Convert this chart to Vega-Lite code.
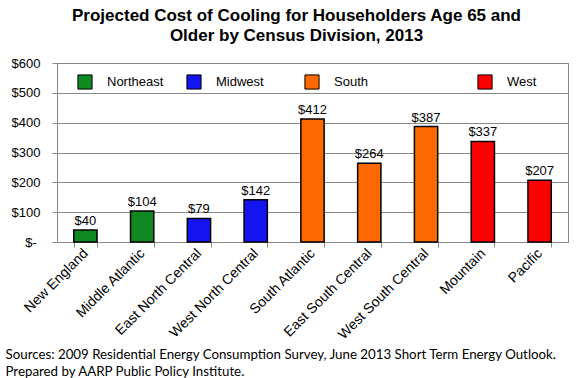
{
  "$schema": "https://vega.github.io/schema/vega-lite/v6.json",
  "width": 511,
  "height": 179,
  "autosize": {"type": "none"},
  "padding": {"left": 57, "top": 63, "right": 11, "bottom": 136},
  "background": "white",
  "title": {
    "text": ["Projected Cost of Cooling for Householders Age 65 and", "Older by Census Division, 2013"],
    "font": "Liberation Sans",
    "fontSize": 17,
    "fontWeight": "bold",
    "color": "black",
    "lineHeight": 20,
    "anchor": "middle",
    "frame": "group",
    "dx": -16,
    "offset": 12
  },
  "data": {
    "values": [
      {"division": "New England", "cost": 40, "region": "Northeast"},
      {"division": "Middle Atlantic", "cost": 104, "region": "Northeast"},
      {"division": "East North Central", "cost": 79, "region": "Midwest"},
      {"division": "West North Central", "cost": 142, "region": "Midwest"},
      {"division": "South Atlantic", "cost": 412, "region": "South"},
      {"division": "East South Central", "cost": 264, "region": "South"},
      {"division": "West South Central", "cost": 387, "region": "South"},
      {"division": "Mountain", "cost": 337, "region": "West"},
      {"division": "Pacific", "cost": 207, "region": "West"}
    ]
  },
  "encoding": {
    "x": {
      "field": "division",
      "type": "nominal",
      "sort": null,
      "scale": {"paddingInner": 0.59, "paddingOuter": 0.295},
      "axis": {
        "title": ["Sources: 2009 Residential Energy Consumption Survey, June 2013 Short Term Energy Outlook.", "\u00a0Prepared by AARP Public Policy Institute."],
        "titleFont": "Lato",
        "titleFontSize": 13.3,
        "titleFontWeight": "normal",
        "titleColor": "black",
        "titleAnchor": "start",
        "titleAlign": "left",
        "titleBaseline": "alphabetic",
        "titleLineHeight": 17,
        "titleX": -52,
        "titleY": 116,
        "labelAngle": -45,
        "labelAlign": "right",
        "labelBaseline": "middle",
        "labelFont": "Liberation Sans",
        "labelFontSize": 14,
        "labelColor": "black",
        "labelPadding": 4,
        "tickBand": "extent",
        "tickSize": 5,
        "tickColor": "#888888",
        "domainColor": "#888888",
        "grid": false
      }
    },
    "y": {
      "field": "cost",
      "type": "quantitative",
      "scale": {"domain": [0, 600], "nice": false},
      "axis": {
        "title": null,
        "values": [0, 100, 200, 300, 400, 500, 600],
        "labelExpr": "datum.value == 0 ? '$-    \u200b' : '$' + datum.value",
        "labelFont": "Liberation Sans",
        "labelFontSize": 13,
        "labelColor": "black",
        "labelPadding": 12,
        "tickSize": 5,
        "tickColor": "#888888",
        "domainColor": "#888888",
        "gridColor": "#888888",
        "gridWidth": 1
      }
    }
  },
  "layer": [
    {
      "mark": {"type": "bar", "stroke": "black", "strokeWidth": 1.5},
      "encoding": {
        "color": {
          "field": "region",
          "type": "nominal",
          "sort": ["Northeast", "Midwest", "South", "West"],
          "scale": {
            "domain": ["Northeast", "Midwest", "South", "West"],
            "range": ["#0F8A22", "#1414F0", "#FF6A00", "#FF0000"]
          },
          "legend": {
            "title": null,
            "orient": "none",
            "legendX": 20,
            "legendY": 11,
            "direction": "horizontal",
            "columns": 4,
            "gridAlign": "none",
            "columnPadding": 20,
            "symbolType": "square",
            "symbolSize": 200,
            "symbolStrokeColor": "black",
            "symbolStrokeWidth": 1,
            "symbolOpacity": 1,
            "labelFont": "Liberation Sans",
            "labelFontSize": 13,
            "labelColor": "black",
            "labelOffset": 14,
            "labelExpr": "datum.value == 'Midwest' ? 'Midwest     \u200b' : datum.value == 'South' ? 'South                        \u200b' : datum.label"
          }
        }
      }
    },
    {
      "mark": {"type": "text", "baseline": "bottom", "dy": -2, "font": "Liberation Sans", "fontSize": 13, "color": "black"},
      "encoding": {
        "text": {"field": "cost", "type": "quantitative", "format": "$,.0f"}
      }
    }
  ],
  "config": {
    "view": {"stroke": "#888888", "strokeWidth": 1}
  }
}
